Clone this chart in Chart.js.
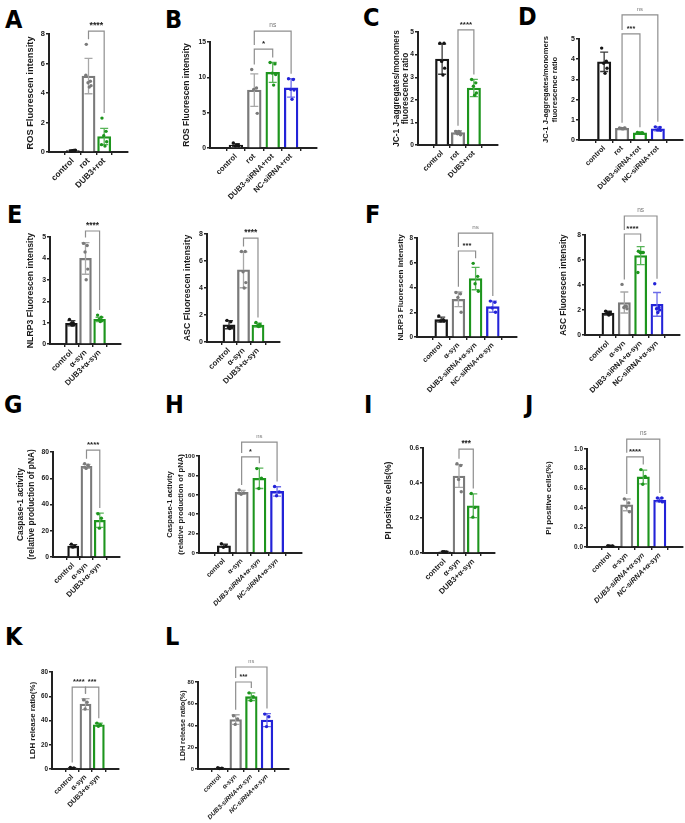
<!DOCTYPE html>
<html>
<head>
<meta charset="utf-8">
<script src="https://cdn.jsdelivr.net/npm/chart.js@4.4.1/dist/chart.umd.min.js"></script>
<style>
  body { margin: 0; background: #fff; width: 685px; height: 823px; position: relative; overflow: hidden; }
  canvas { position: absolute; }
  .letter { position: absolute; font: bold 25px "Liberation Sans Narrow", "DejaVu Sans Condensed", "Liberation Sans", sans-serif; line-height: 1; color: #000; }
</style>
</head>
<body>
<script>
// groups
const rotGroups3 = ["control", "rot", "DUB3+rot"];
const rotGroups4 = ["control", "rot", "DUB3-siRNA+rot", "NC-siRNA+rot"];
const synGroups3 = ["control", "α-syn", "DUB3+α-syn"];
const synGroups4 = ["control", "α-syn", "DUB3-siRNA+α-syn", "NC-siRNA+α-syn"];

// y ticks
const ticks5 = [0, 1, 2, 3, 4, 5];
const ticks8 = [0, 2, 4, 6, 8];
const ticks15 = [0, 5, 10, 15];
const ticks80 = [0, 20, 40, 60, 80];
const ticks100 = [0, 20, 40, 60, 80, 100];
const ticks06 = [0, 0.2, 0.4, 0.6];
const ticks10 = [0, 0.2, 0.4, 0.6, 0.8, 1.0];

// A - ROS
const rosA_mean = [0.1, 5.15, 1.05];
const rosA_sd = [0.05, 1.2, 0.55];
const rosA_pts = [[0.05, 0.1, 0.08, 0.12, 0.1], [7.3, 4.8, 4.7, 4.5, 4.4, 5.2], [2.3, 1.4, 1.1, 0.7, 0.4, 0.5]];
// B - ROS
const rosB_mean = [0.4, 8.2, 10.7, 8.5];
const rosB_sd = [0.2, 2.3, 1.4, 1.3];
const rosB_pts = [[0.7, 0.4, 0.3, 0.3, 0.4], [11.1, 8.5, 8.3, 4.9], [12.1, 11.9, 10.6, 10.4, 8.9], [9.8, 9.7, 8.3, 8.2, 6.9]];
// C - JC-1
const jc1C_mean = [3.8, 0.55, 2.52];
const jc1C_sd = [0.67, 0.08, 0.38];
const jc1C_pts = [[4.5, 4.5, 3.7, 3.4, 3.1], [0.6, 0.55, 0.5, 0.45, 0.6], [2.9, 2.75, 2.6, 2.3, 2.2]];
// D - JC-1
const jc1D_mean = [3.87, 0.58, 0.35, 0.55];
const jc1D_sd = [0.48, 0.03, 0.03, 0.1];
const jc1D_pts = [[4.55, 3.9, 3.8, 3.55, 3.3], [0.6, 0.58, 0.57, 0.6, 0.55], [0.37, 0.36, 0.35, 0.33, 0.34], [0.65, 0.62, 0.5, 0.48, 0.5]];
// E - NLRP3 / ASC
const nlrp3E_mean = [0.97, 4.0, 1.15];
const nlrp3E_sd = [0.12, 0.74, 0.1];
const nlrp3E_pts = [[1.15, 1.0, 0.95, 0.9, 0.88], [4.7, 4.6, 4.3, 3.5, 3.0], [1.35, 1.25, 1.15, 1.1, 1.05]];
const ascE_mean = [1.28, 5.35, 1.25];
const ascE_sd = [0.3, 1.33, 0.15];
const ascE_pts = [[1.6, 1.5, 1.1, 1.1, 1.0], [6.7, 6.7, 5.2, 4.4, 4.0], [1.45, 1.3, 1.2, 1.2, 1.15]];
// F - NLRP3 / ASC
const nlrp3F_mean = [1.4, 3.05, 4.72, 2.45];
const nlrp3F_sd = [0.2, 0.6, 0.9, 0.45];
const nlrp3F_pts = [[1.7, 1.4, 1.3, 1.3], [3.6, 3.5, 3.2, 2.0], [5.95, 4.9, 4.3, 3.7], [2.9, 2.8, 2.35, 2.0]];
const ascF_mean = [1.75, 2.6, 6.35, 2.45];
const ascF_sd = [0.15, 0.84, 0.72, 0.95];
const ascF_pts = [[1.9, 1.8, 1.75, 1.7, 1.6], [4.05, 2.3, 2.2, 2.1, 2.3], [6.7, 6.6, 6.6, 6.6, 6.6, 5.0], [4.1, 2.2, 2.1, 2.0, 1.8]];
// G / H - caspase-1
const casG_mean = [8.3, 69, 28];
const casG_sd = [1.2, 1.5, 5.5];
const casG_pts = [[9.8, 8.0, 7.5], [71, 70, 67.5], [33, 29.5, 22]];
const casH_mean = [7.5, 62.5, 77, 63.5];
const casH_sd = [1.5, 2, 10.5, 4.8];
const casH_pts = [[9.5, 7, 6], [65, 62, 60.5], [87, 77, 66.5], [68.5, 63, 59]];
// I / J - PI
const piI_mean = [0.007, 0.44, 0.27];
const piI_sd = [0.002, 0.065, 0.068];
const piI_pts = [[0.008, 0.006, 0.007], [0.51, 0.5, 0.42, 0.35], [0.34, 0.26, 0.205]];
const piJ_mean = [0.01, 0.43, 0.715, 0.48];
const piJ_sd = [0.003, 0.06, 0.07, 0.02];
const piJ_pts = [[0.012, 0.01, 0.01, 0.008], [0.49, 0.45, 0.41, 0.36], [0.79, 0.72, 0.64], [0.5, 0.5, 0.47, 0.46]];
// K / L - LDH
const ldhK_mean = [0.8, 53.5, 36.5];
const ldhK_sd = [0.3, 4.5, 1.3];
const ldhK_pts = [[1.2, 0.8, 0.5], [57, 55, 49.5], [37.8, 36.5, 35.2]];
const ldhL_mean = [0.8, 45.5, 66.5, 45];
const ldhL_sd = [0.3, 4.4, 3.5, 6];
const ldhL_pts = [[1.1, 0.8, 0.5], [49, 46, 41], [70, 66.5, 63], [50.5, 48, 39]];

const FONT = '"Liberation Sans", Arial, sans-serif';
const GROUP_COLORS = ["#161616", "#7a7a7a", "#1d951d", "#2323d8"];
const ERR_COLORS = ["#3a3a3a", "#a8a8a8", "#58b458", "#6c6ce8"];
const JITTER = [-0.14, 0.12, -0.03, 0.16, 0.05, -0.17];
const Y_BOX = 48, X_BOX = 66, PAD_T = 40, PAD_R = 4, CAP = 4, EDGE = 0.68;

const letters = [
  ["A", 5, 7], ["B", 165, 7], ["C", 363, 5], ["D", 518, 4],
  ["E", 7, 202], ["F", 365, 202],
  ["G", 4, 392], ["H", 165, 392], ["I", 364, 392], ["J", 525, 392],
  ["K", 5, 624], ["L", 165, 624]
];

const panels = [
  { box: [49, 34, 128, 152], fs: 9.3, tOff: 19, groups: rotGroups3, mean: rosA_mean, sd: rosA_sd, pts: rosA_pts, yTicks: ticks8,
    title: ["ROS Fluorescen intensity"], brackets: [{ a: 1, b: 2, y: 8.2, t: "****" }] },
  { box: [210, 42, 317, 148], fs: 8.5, tOff: 23, groups: rotGroups4, mean: rosB_mean, sd: rosB_sd, pts: rosB_pts, yTicks: ticks15,
    title: ["ROS Fluorescen intensity"], brackets: [{ a: 1, b: 3, y: 16.55, t: "ns" }, { a: 1, b: 2, y: 14.0, t: "*" }] },
  { box: [418, 32, 498, 145], fs: 8.3, tOff: 17, lh: 8.6, groups: rotGroups3, mean: jc1C_mean, sd: jc1C_sd, pts: jc1C_pts, yTicks: ticks5,
    title: ["JC-1 J-aggregates/monomers", "fluorescence ratio"], brackets: [{ a: 1, b: 2, y: 5.09, t: "****" }] },
  { box: [579, 39, 683, 140], fs: 7.6, tk: 7, xl: 7.3, tOff: 29, lh: 9, groups: rotGroups4, mean: jc1D_mean, sd: jc1D_sd, pts: jc1D_pts, yTicks: ticks5,
    title: ["JC-1 J-aggregates/monomers", "fluorescence ratio"], brackets: [{ a: 1, b: 3, y: 6.19, t: "ns" }, { a: 1, b: 2, y: 5.25, t: "***" }] },
  { box: [50, 237, 121, 344], fs: 8.7, tOff: 19, groups: synGroups3, mean: nlrp3E_mean, sd: nlrp3E_sd, pts: nlrp3E_pts, yTicks: ticks5,
    title: ["NLRP3 Fluorescen intensity"], brackets: [{ a: 1, b: 2, y: 5.28, t: "****" }] },
  { box: [207, 234, 280, 342], fs: 8.8, tOff: 19, groups: synGroups3, mean: ascE_mean, sd: ascE_sd, pts: ascE_pts, yTicks: ticks8,
    title: ["ASC Fluorescen intensity"], brackets: [{ a: 1, b: 2, y: 7.7, t: "****" }] },
  { box: [417, 238, 517, 337], fs: 8.0, tOff: 16, groups: synGroups4, mean: nlrp3F_mean, sd: nlrp3F_sd, pts: nlrp3F_pts, yTicks: ticks8,
    title: ["NLRP3 Fluorescen intensity"], brackets: [{ a: 1, b: 3, y: 8.4, t: "ns" }, { a: 1, b: 2, y: 6.95, t: "***" }] },
  { box: [585, 235, 680, 335], fs: 8.4, tOff: 21, groups: synGroups4, mean: ascF_mean, sd: ascF_sd, pts: ascF_pts, yTicks: ticks8,
    title: ["ASC Fluorescen intensity"], brackets: [{ a: 1, b: 3, y: 9.52, t: "ns" }, { a: 1, b: 2, y: 8.08, t: "****" }] },
  { box: [53, 452, 120, 557], fs: 8.4, tOff: 27, lh: 11.5, groups: synGroups3, mean: casG_mean, sd: casG_sd, pts: casG_pts, yTicks: ticks80,
    title: ["Caspase-1 activity", "(relative production of pNA)"], brackets: [{ a: 1, b: 2, y: 81.5, t: "****" }] },
  { box: [199, 456, 302, 553], fs: 7.6, tk: 6.2, tOff: 23.5, lh: 10.5, italic: true, groups: synGroups4, mean: casH_mean, sd: casH_sd, pts: casH_pts, yTicks: ticks100,
    title: ["Caspase-1 activity", "(relative production of pNA)"], brackets: [{ a: 1, b: 3, y: 114.4, t: "ns" }, { a: 1, b: 2, y: 99, t: "*" }] },
  { box: [423, 448, 495, 553], fs: 8.6, tOff: 34, dec: 1, groups: synGroups3, mean: piI_mean, sd: piI_sd, pts: piI_pts, yTicks: ticks06,
    title: ["PI positive cells(%)"], brackets: [{ a: 1, b: 2, y: 0.594, t: "***" }] },
  { box: [587, 449, 683, 547], fs: 8.1, tOff: 38, dec: 1, italic: true, groups: synGroups4, mean: piJ_mean, sd: piJ_sd, pts: piJ_pts, yTicks: ticks10,
    title: ["PI positive cells(%)"], brackets: [{ a: 1, b: 3, y: 1.10, t: "ns" }, { a: 1, b: 2, y: 0.92, t: "****" }] },
  { box: [52, 672, 119, 769], fs: 7.9, tOff: 19, groups: synGroups3, mean: ldhK_mean, sd: ldhK_sd, pts: ldhK_pts, yTicks: ticks80,
    title: ["LDH release ratio(%)"], brackets: [{ a: 0, b: 1, y: 67.6, t: "****" }, { a: 1, b: 2, y: 67.6, t: "***" }] },
  { box: [198, 682, 289, 769], fs: 7.2, tOff: 15, italic: true, groups: synGroups4, mean: ldhL_mean, sd: ldhL_sd, pts: ldhL_pts, yTicks: ticks80,
    title: ["LDH release ratio(%)"], brackets: [{ a: 1, b: 3, y: 93.8, t: "ns" }, { a: 1, b: 2, y: 80, t: "***" }] }
];

function makePanel(p) {
  const [L, T, R, B] = p.box;
  const n = p.groups.length;
  const w = Y_BOX + (R - L) + PAD_R;
  const h = PAD_T + (B - T) + X_BOX;
  const step = (R - L) / (n - 1 + 2 * EDGE);
  const tickSize = p.tk || p.fs * 0.8;
  const labelSize = p.xl || p.fs * 0.9;
  const cv = document.createElement("canvas");
  cv.width = w;
  cv.height = h;
  cv.style.left = `${L - Y_BOX}px`;
  cv.style.top = `${T - PAD_T}px`;
  cv.style.width = `${w}px`;
  cv.style.height = `${h}px`;
  document.body.appendChild(cv);

  const points = [];
  const pointColors = [];
  p.pts.forEach((vals, i) => vals.forEach((v, k) => {
    points.push({ x: i + JITTER[k % JITTER.length], y: v });
    pointColors.push(GROUP_COLORS[i]);
  }));

  const errorBars = {
    id: "errorBars",
    afterDatasetDraw(chart, args) {
      if (args.index !== 1) return;
      const { ctx, scales: { x, y } } = chart;
      ctx.save();
      ctx.lineWidth = 1.3;
      p.mean.forEach((m, i) => {
        const cx = x.getPixelForValue(i);
        const top = y.getPixelForValue(m + p.sd[i]);
        const bot = y.getPixelForValue(Math.max(m - p.sd[i], 0));
        ctx.strokeStyle = ERR_COLORS[i];
        ctx.beginPath();
        ctx.moveTo(cx, top); ctx.lineTo(cx, bot);
        ctx.moveTo(cx - CAP, top); ctx.lineTo(cx + CAP, top);
        ctx.moveTo(cx - CAP, bot); ctx.lineTo(cx + CAP, bot);
        ctx.stroke();
      });
      ctx.restore();
    }
  };

  const decorations = {
    id: "decorations",
    afterDraw(chart) {
      const { ctx, chartArea: ca, scales: { x, y } } = chart;
      // y title
      ctx.save();
      ctx.translate(ca.left - p.tOff, (ca.top + ca.bottom) / 2);
      ctx.rotate(-Math.PI / 2);
      ctx.textAlign = "center";
      ctx.textBaseline = "middle";
      ctx.fillStyle = "#1a1a1a";
      ctx.font = `bold ${p.fs}px ${FONT}`;
      const lh = p.lh || p.fs * 1.1;
      p.title.forEach((ln, k) => ctx.fillText(ln, 0, (k - (p.title.length - 1) / 2) * lh));
      ctx.restore();

      // significance brackets
      const groupTop = (g) => {
        const hi = Math.max(p.mean[g] + p.sd[g], ...p.pts[g]);
        return y.getPixelForValue(hi) - 5;
      };
      ctx.save();
      p.brackets.forEach((br) => {
        const by = y.getPixelForValue(br.y);
        const legEnd = (g) => {
          let e = groupTop(g);
          p.brackets.forEach((o) => {
            if (o !== br && o.y < br.y && (o.a === g || o.b === g)) {
              e = Math.min(e, y.getPixelForValue(o.y) - 4);
            }
          });
          return Math.max(e, by + 3);
        };
        const xa = x.getPixelForValue(br.a);
        const xb = x.getPixelForValue(br.b);
        ctx.lineWidth = 1.2;
        ctx.strokeStyle = "#8e8e8e";
        ctx.beginPath();
        ctx.moveTo(xa, legEnd(br.a));
        ctx.lineTo(xa, by);
        ctx.lineTo(xb, by);
        ctx.lineTo(xb, legEnd(br.b));
        ctx.stroke();
        ctx.textAlign = "center";
        ctx.textBaseline = "bottom";
        if (br.t === "ns") {
          ctx.fillStyle = "#777";
          ctx.font = `${p.fs * 0.78}px ${FONT}`;
          ctx.fillText(br.t, (xa + xb) / 2, by - 3);
        } else {
          ctx.fillStyle = "#222";
          ctx.font = `bold ${p.fs * 0.95}px ${FONT}`;
          ctx.fillText(br.t, (xa + xb) / 2, by - 1);
        }
      });
      ctx.restore();
    }
  };

  const axisGrid = { display: true, drawOnChartArea: false, drawTicks: true, tickLength: 3, color: "#222", lineWidth: 1.4 };
  const axisBorder = { display: true, color: "#222", width: 2 };

  new Chart(cv, {
    type: "bar",
    data: {
      datasets: [
        {
          type: "scatter",
          data: points,
          pointRadius: 1.7,
          pointBackgroundColor: pointColors,
          pointBorderWidth: 0,
          clip: false,
          order: 1
        },
        {
          type: "bar",
          data: p.mean.map((m, i) => ({ x: i, y: m })),
          backgroundColor: "#ffffff",
          borderColor: GROUP_COLORS.slice(0, n),
          borderWidth: 2.3,
          barThickness: step * 0.56,
          order: 2
        }
      ]
    },
    options: {
      responsive: false,
      animation: false,
      devicePixelRatio: 1,
      layout: { padding: { top: PAD_T, right: PAD_R, left: 0, bottom: 0 } },
      plugins: { legend: { display: false }, tooltip: { enabled: false } },
      scales: {
        x: {
          type: "linear",
          min: -EDGE,
          max: n - 1 + EDGE,
          afterFit: (s) => { s.height = X_BOX; },
          afterBuildTicks: (s) => { s.ticks = p.groups.map((_, i) => ({ value: i })); },
          ticks: {
            autoSkip: false,
            minRotation: 45,
            maxRotation: 45,
            padding: 1,
            color: "#1a1a1a",
            callback: (v) => p.groups[v],
            font: (ctx) => ({ family: FONT, size: labelSize, weight: "bold", style: p.italic && ctx.index >= 2 ? "italic" : "normal" })
          },
          grid: axisGrid,
          border: axisBorder
        },
        y: {
          min: 0,
          max: p.yTicks[p.yTicks.length - 1],
          afterFit: (s) => { s.width = Y_BOX; },
          afterBuildTicks: (s) => { s.ticks = p.yTicks.map((v) => ({ value: v })); },
          ticks: {
            padding: 1,
            color: "#1a1a1a",
            callback: (v) => (p.dec ? Number(v).toFixed(p.dec) : v),
            font: { family: FONT, size: tickSize, weight: "bold" }
          },
          grid: axisGrid,
          border: axisBorder
        }
      }
    },
    plugins: [errorBars, decorations]
  });
}

letters.forEach(([t, x, y]) => {
  const d = document.createElement("div");
  d.className = "letter";
  d.textContent = t;
  d.style.left = `${x}px`;
  d.style.top = `${y}px`;
  document.body.appendChild(d);
});

panels.forEach(makePanel);
</script>
</body>
</html>
